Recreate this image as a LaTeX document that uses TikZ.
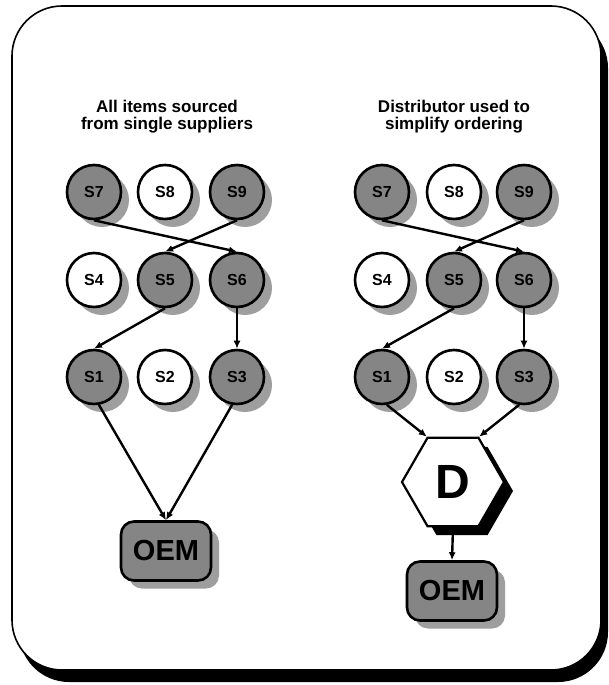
\documentclass[tikz,border=0pt]{standalone}
\usepackage{fontspec}
\setmainfont{Liberation Sans}
\usetikzlibrary{shapes.geometric,shadows,arrows.meta}
\begin{document}
\begin{tikzpicture}[x=1pt,y=-1pt,
  sup/.style={circle,draw,line width=2.6pt,minimum size=54pt,inner sep=0pt,
    font=\fontsize{16}{16}\selectfont\bfseries,
    drop shadow={shadow xshift=8pt,shadow yshift=-8pt,fill=black!38,opacity=1}},
  darksup/.style={sup,fill=black!48},
  lightsup/.style={sup,fill=white},
  oem/.style={rectangle,rounded corners=13pt,draw,line width=2.6pt,
    minimum width=90pt,minimum height=59pt,fill=black!48,
    font=\fontsize{29}{29}\selectfont\bfseries,
    drop shadow={shadow xshift=8pt,shadow yshift=-8pt,fill=black!38,opacity=1}},
  hexa/.style={regular polygon,regular polygon sides=6,minimum size=102pt,
    draw,line width=2.2pt,fill=white,inner sep=0pt,
    font=\fontsize{48}{48}\selectfont\bfseries,
    drop shadow={shadow xshift=9pt,shadow yshift=-9pt,fill=black,opacity=1}},
  title/.style={align=center,font=\fontsize{17}{17}\selectfont\bfseries},
  arr/.style={line width=2.4pt,-{Latex[length=8pt,width=7pt]}},
]
\useasboundingbox (0,0) rectangle (609,685);
% frame with shadow
\fill[black,rounded corners=50pt] (19,18) rectangle (608,682);
\draw[fill=white,line width=1.6pt,rounded corners=50pt] (12,6) rectangle (601,670);

% titles
\node[title] (tl) at (167,117) {All items sourced\\from single suppliers};
\node[title] (tr) at (454,117) {Distributor used to\\simplify ordering};

% left network
\node[darksup]  (lS7) at (94,192) {S7};
\node[lightsup] (lS8) at (165,192) {S8};
\node[darksup]  (lS9) at (237,192) {S9};
\node[lightsup] (lS4) at (94,280) {S4};
\node[darksup]  (lS5) at (165,280) {S5};
\node[darksup]  (lS6) at (237,280) {S6};
\node[darksup]  (lS1) at (94,377) {S1};
\node[lightsup] (lS2) at (165,377) {S2};
\node[darksup]  (lS3) at (237,377) {S3};
\node[oem] (lO) at (166,551) {OEM};

% right network
\node[darksup]  (rS7) at (382,192) {S7};
\node[lightsup] (rS8) at (454,192) {S8};
\node[darksup]  (rS9) at (524,192) {S9};
\node[lightsup] (rS4) at (382,280) {S4};
\node[darksup]  (rS5) at (454,280) {S5};
\node[darksup]  (rS6) at (524,280) {S6};
\node[darksup]  (rS1) at (382,377) {S1};
\node[lightsup] (rS2) at (454,377) {S2};
\node[darksup]  (rS3) at (524,377) {S3};
\node[hexa] (D) at (453,482) {D};
\node[oem] (rO) at (452,591) {OEM};

% left connectors
\draw[arr] (lS7.south) -- (lS6.north);
\draw[arr] (lS9.south) -- (lS5.north);
\draw[arr] (lS5.south) -- (lS1.north);
\draw[arr] (lS6.south) -- (lS3.north);
\draw[arr] (lS1.-80) -- (lO.north);
\draw[arr] (lS3.-100) -- (lO.north);

% right connectors
\draw[arr] (rS7.south) -- (rS6.north);
\draw[arr] (rS9.south) -- (rS5.north);
\draw[arr] (rS5.south) -- (rS1.north);
\draw[arr] (rS6.south) -- (rS3.north);
\draw[arr] (rS1.-80) -- (D.120);
\draw[arr] (rS3.-100) -- (D.60);
\draw[arr] (D.south) -- (rO.north);
\end{tikzpicture}
\end{document}
